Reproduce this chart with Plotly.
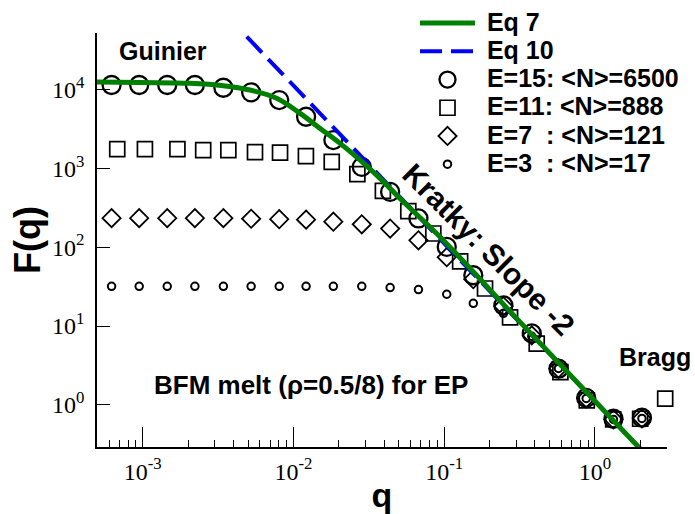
import plotly.graph_objects as go

# ---------------- data ----------------
# common q grid of the E=15, E=7 and E=3 series
q_grid = [6.22e-4, 9.48e-4, 1.455e-3, 2.22e-3, 3.43e-3, 5.24e-3, 8.05e-3, 0.01213,
          0.0184, 0.0284, 0.0438, 0.0675, 0.104, 0.156, 0.247, 0.381, 0.573,
          0.875, 1.327, 2.05]
F_e15 = [11350, 11350, 11350, 11350, 10470, 9160, 7310, 4490, 2275, 1042, 501,
         231, 100.7, 44.0, 18.3, 8.07, 2.88, 1.23, 0.668, 0.689]
F_e7 = [233, 233, 233, 233, 233, 229, 226, 223, 210, 195, 172, 122, 74.5, 39.2,
        17.8, 7.62, 2.90, 1.21, 0.655, 0.675]
F_e3 = [31.9, 31.9, 31.9, 31.9, 31.9, 31.9, 31.9, 31.9, 31.9, 31.9, 30.7, 29.0,
        25.3, 19.4, 14.5, 7.4, 2.9, 1.21, 0.655, 0.675]

q_e11 = [6.78e-4, 1.035e-3, 1.70e-3, 2.52e-3, 3.70e-3, 5.56e-3, 8.15e-3, 0.0121,
         0.01795, 0.02655, 0.0392, 0.0578, 0.0847, 0.1276, 0.1866, 0.2735, 0.411,
         0.590, 0.883, 1.321, 1.995, 2.924]
F_e11 = [1746, 1746, 1746, 1698, 1698, 1600, 1578, 1426, 1205, 841, 516, 286, 149,
         66.2, 29.9, 12.9, 5.98, 2.61, 1.14, 0.655, 0.668, 1.20]

# Eq 7 curve
q_eq7 = [4.98e-4, 9.59e-4, 2.06e-3, 3.43e-3, 5.15e-3, 7.74e-3, 0.01107, 0.01503,
         0.0204, 0.0277, 0.0376, 0.0509, 0.0940, 0.30, 2.0]
F_eq7 = [12390, 12190, 11910, 11120, 9795, 7690, 4955, 3199, 2065, 1268, 743, 414,
         134.6, 12.7, 0.277]

# Eq 10 (blue dashed line)
q_eq10 = [4.90e-3, 2.0]
F_eq10 = [46560, 0.279]

x_tickvals = [1e-3, 1e-2, 1e-1, 1]
x_ticktext = ["10<sup>-3</sup>", "10<sup>-2</sup>", "10<sup>-1</sup>", "10<sup>0</sup>"]
y_tickvals = [1, 10, 100, 1000, 10000]
y_ticktext = ["10<sup>0</sup>", "10<sup>1</sup>", "10<sup>2</sup>", "10<sup>3</sup>",
              "10<sup>4</sup>"]

series_names = ["Eq 7", "Eq 10", "E=15: &lt;N&gt;=6500", "E=11: &lt;N&gt;=888",
                "E=7&nbsp;&nbsp;: &lt;N&gt;=121", "E=3&nbsp;&nbsp;: &lt;N&gt;=17"]

# ---------------- figure ----------------
W, H = 695, 514
ML, MR, MT, MB = 97, 28, 33, 67
SANS = "Liberation Sans, Arial, Helvetica, sans-serif"
SERIF = "Liberation Serif, Times New Roman, serif"


def px(x):
    return (x - ML) / (W - ML - MR)


def py(y):
    return (H - MB - y) / (H - MT - MB)


def lname(s):
    return "<span style='font-size:25px'><b>&nbsp;" + s + "</b></span>"


fig = go.Figure()

fig.add_trace(go.Scatter(x=q_grid, y=F_e3, mode="markers", name=lname(series_names[5]),
                         legendrank=6, cliponaxis=False,
                         marker=dict(symbol="circle-open", size=7.5, color="black",
                                     line=dict(width=2))))
fig.add_trace(go.Scatter(x=q_grid, y=F_e7, mode="markers", name=lname(series_names[4]),
                         legendrank=5, cliponaxis=False,
                         marker=dict(symbol="diamond-open", size=14, color="black",
                                     line=dict(width=1.8))))
fig.add_trace(go.Scatter(x=q_e11, y=F_e11, mode="markers", name=lname(series_names[3]),
                         legendrank=4, cliponaxis=False,
                         marker=dict(symbol="square-open", size=15, color="black",
                                     line=dict(width=1.7))))
fig.add_trace(go.Scatter(x=q_grid, y=F_e15, mode="markers", name=lname(series_names[2]),
                         legendrank=3, cliponaxis=False,
                         marker=dict(symbol="circle-open", size=18, color="black",
                                     line=dict(width=2.3))))
fig.add_trace(go.Scatter(x=q_eq10, y=F_eq10, mode="lines", name=lname(series_names[1]),
                         legendrank=2,
                         line=dict(color="#0000ff", width=4, dash="22px,9px")))
fig.add_trace(go.Scatter(x=q_eq7, y=F_eq7, mode="lines", name=lname(series_names[0]),
                         legendrank=1,
                         line=dict(color="#008000", width=5, shape="spline")))

fig.update_xaxes(type="log", range=[-3.303, 0.478], showline=True, linecolor="black",
                 linewidth=1.5, mirror=False, showgrid=False, zeroline=False,
                 tickmode="array", tickvals=x_tickvals, ticktext=x_ticktext,
                 ticks="inside", ticklen=20, tickwidth=1.2, tickcolor="black",
                 ticklabelstandoff=2,
                 tickfont=dict(family=SERIF, size=24, color="black"),
                 minor=dict(ticks="inside", ticklen=7, tickwidth=1.2, tickcolor="black",
                            tickmode="array",
                            tickvals=[k * 10.0 ** e for e in range(-4, 1) for k in range(2, 10)],
                            showgrid=False),
                 title=dict(text="<b>q</b>", font=dict(family=SANS, size=34, color="black"),
                            standoff=2))
fig.update_yaxes(type="log", range=[-0.533, 4.714], showline=True, linecolor="black",
                 linewidth=1.5, mirror=False, showgrid=False, zeroline=False,
                 tickmode="array", tickvals=y_tickvals, ticktext=y_ticktext,
                 ticks="inside", ticklen=13, tickwidth=1.2, tickcolor="black",
                 ticklabelstandoff=6,
                 tickfont=dict(family=SERIF, size=24, color="black"),
                 title=dict(text="<b>F(q)</b>", font=dict(family=SANS, size=36, color="black"),
                            standoff=0))

annots = [
    ("<b>Guinier</b>", 162.5, 51, 25, 0),
    ("<b>Bragg</b>", 655, 357, 25, 0),
    ("<b>BFM melt (ρ=0.5/8) for EP</b>", 310.8, 385, 26, 0),
    ("<b>Kratky: Slope -2</b>", 489, 249, 30, 45),
]
for text, x, y, size, ang in annots:
    fig.add_annotation(text=text, x=px(x), y=py(y), xref="paper", yref="paper",
                       xanchor="center", yanchor="middle", showarrow=False,
                       textangle=ang, font=dict(family=SANS, size=size, color="black"))

fig.update_layout(
    width=W, height=H,
    margin=dict(l=ML, r=MR, t=MT, b=MB, pad=0, autoexpand=False),
    paper_bgcolor="white", plot_bgcolor="white",
    showlegend=True,
    legend=dict(x=px(415), y=py(4), xanchor="left", yanchor="top",
                bgcolor="rgba(0,0,0,0)", borderwidth=0, itemwidth=55,
                font=dict(family=SANS, size=19.4, color="black"),
                tracegroupgap=0, traceorder="normal"),
)

fig.write_html("out.html", config={"displayModeBar": False},
               post_script="document.body.style.margin='0';document.body.style.padding='0';")
